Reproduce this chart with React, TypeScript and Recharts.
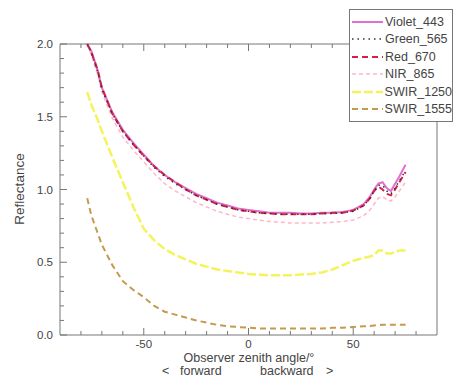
import { LineChart, Line, XAxis, YAxis, Legend, Label } from 'recharts'

const angles = [-77, -75, -72, -70, -65, -60, -55, -50, -45, -40, -35, -30, -25, -20, -15, -10, -5, 0, 5, 10, 15, 20, 25, 30, 35, 40, 45, 50, 55, 58, 60, 62, 64, 66, 68, 70, 72, 75]

const violet443 = [2.0, 1.95, 1.82, 1.7, 1.53, 1.41, 1.32, 1.24, 1.16, 1.1, 1.05, 1.01, 0.97, 0.94, 0.91, 0.89, 0.87, 0.86, 0.85, 0.84, 0.84, 0.84, 0.835, 0.835, 0.84, 0.84, 0.845, 0.86, 0.9, 0.95, 1.0, 1.04, 1.05, 1.01, 0.99, 1.04, 1.09, 1.17]
const green565 = [2.0, 1.94, 1.81, 1.69, 1.52, 1.4, 1.31, 1.23, 1.15, 1.09, 1.04, 1.0, 0.96, 0.93, 0.9, 0.88, 0.86, 0.85, 0.84, 0.835, 0.83, 0.83, 0.83, 0.83, 0.835, 0.835, 0.84, 0.85, 0.89, 0.94, 0.99, 1.03, 1.03, 0.99, 0.97, 1.01, 1.06, 1.13]
const red670 = [2.0, 1.94, 1.82, 1.7, 1.52, 1.4, 1.31, 1.23, 1.16, 1.1, 1.05, 1.0, 0.96, 0.93, 0.9, 0.88, 0.86, 0.85, 0.84, 0.835, 0.83, 0.83, 0.83, 0.83, 0.835, 0.84, 0.84, 0.855, 0.89, 0.94, 0.99, 1.02, 1.0, 0.97, 0.96, 1.0, 1.05, 1.12]
const nir865 = [2.0, 1.92, 1.79, 1.67, 1.49, 1.36, 1.27, 1.19, 1.11, 1.04, 0.99, 0.95, 0.91, 0.88, 0.85, 0.83, 0.81, 0.8, 0.79, 0.78, 0.775, 0.77, 0.77, 0.77, 0.77, 0.775, 0.78, 0.79, 0.82, 0.86, 0.9, 0.94, 0.95, 0.93, 0.92, 0.95, 0.99, 1.05]
const swir1250 = [1.67, 1.58, 1.48, 1.4, 1.22, 1.05, 0.88, 0.73, 0.65, 0.59, 0.55, 0.52, 0.49, 0.47, 0.45, 0.44, 0.43, 0.42, 0.415, 0.41, 0.41, 0.41, 0.415, 0.42, 0.43, 0.45, 0.48, 0.51, 0.53, 0.54, 0.55, 0.58, 0.58, 0.56, 0.56, 0.57, 0.58, 0.58]
const swir1555 = [0.94, 0.82, 0.7, 0.62, 0.48, 0.37, 0.31, 0.26, 0.2, 0.16, 0.14, 0.12, 0.1, 0.085, 0.07, 0.06, 0.055, 0.05, 0.045, 0.045, 0.045, 0.045, 0.045, 0.045, 0.045, 0.05, 0.05, 0.055, 0.06, 0.062, 0.065, 0.068, 0.07, 0.07, 0.07, 0.07, 0.07, 0.07]

const xTicks = [-80, -70, -60, -50, -40, -30, -20, -10, 0, 10, 20, 30, 40, 50, 60, 70, 80]
const xLabelled = [-50, 0, 50]
const yTicks = [0, 0.1, 0.2, 0.3, 0.4, 0.5, 0.6, 0.7, 0.8, 0.9, 1.0, 1.1, 1.2, 1.3, 1.4, 1.5, 1.6, 1.7, 1.8, 1.9, 2.0]
const yLabelled = [0, 0.5, 1.0, 1.5, 2.0]

const series = [
  { key: 'NIR_865', values: nir865, color: '#ffb6c6', width: 1.5, dash: '4 3' },
  { key: 'SWIR_1250', values: swir1250, color: '#f4f45a', width: 2.5, dash: '9 3' },
  { key: 'SWIR_1555', values: swir1555, color: '#c49a4c', width: 2, dash: '6 4' },
  { key: 'Violet_443', values: violet443, color: '#e070d0', width: 2, dash: undefined },
  { key: 'Red_670', values: red670, color: '#d42048', width: 2, dash: '6 4' },
  { key: 'Green_565', values: green565, color: '#333333', width: 1.5, dash: '1.5 4' },
]

const legendOrder = ['Violet_443', 'Green_565', 'Red_670', 'NIR_865', 'SWIR_1250', 'SWIR_1555']

const data = angles.map((a, i) => {
  const row: Record<string, number> = { angle: a }
  series.forEach((s) => (row[s.key] = s.values[i]))
  return row
})

const font = 'Liberation Sans, Arial, sans-serif'
const axisColor = '#777'
const textColor = '#444'

const isMajor = (v: number, list: number[]) => list.some((m) => Math.abs(m - v) < 1e-6)

function BottomTick(props: any) {
  const { x, y, payload } = props
  const major = isMajor(payload.value, xLabelled)
  return (
    <g>
      <line x1={x} x2={x} y1={y} y2={y - (major ? 7 : 4)} stroke={axisColor} />
      {major && (
        <text x={x} y={y + 12.5} textAnchor="middle" fontSize={11.5} fontFamily={font} fill={textColor}>
          {payload.value}
        </text>
      )}
    </g>
  )
}

function TopTick(props: any) {
  const { x, y, payload } = props
  const major = isMajor(payload.value, xLabelled)
  return <line x1={x} x2={x} y1={y} y2={y + (major ? 7 : 4)} stroke={axisColor} />
}

function LeftTick(props: any) {
  const { x, y, payload } = props
  const major = isMajor(payload.value, yLabelled)
  return (
    <g>
      <line x1={x} x2={x + (major ? 7 : 4)} y1={y} y2={y} stroke={axisColor} />
      {major && (
        <text x={x - 7} y={y + 4} textAnchor="end" fontSize={11.5} fontFamily={font} fill={textColor}>
          {payload.value.toFixed(1)}
        </text>
      )}
    </g>
  )
}

function RightTick(props: any) {
  const { x, y, payload } = props
  const major = isMajor(payload.value, yLabelled)
  return <line x1={x} x2={x - (major ? 7 : 4)} y1={y} y2={y} stroke={axisColor} />
}

function LegendBox() {
  return (
    <div
      style={{
        border: `1px solid ${axisColor}`,
        background: '#fff',
        padding: '3px 0',
        width: 104,
        boxSizing: 'border-box',
        fontFamily: font,
        fontSize: 12.5,
        color: textColor,
      }}
    >
      {legendOrder.map((k) => {
        const s = series.find((x) => x.key === k)!
        return (
          <div key={k} style={{ display: 'flex', alignItems: 'center', height: 17.5 }}>
            <svg width={33} height={8} style={{ marginLeft: 2 }}>
              <line x1={0} x2={31} y1={4} y2={4} stroke={s.color} strokeWidth={s.width} strokeDasharray={s.dash} />
            </svg>
            <span>{k}</span>
          </div>
        )
      })}
    </div>
  )
}

export default function App() {
  return (
    <div style={{ width: 466, height: 388, position: 'relative', background: '#fff' }}>
      <style>{'body{margin:0}'}</style>
      <LineChart width={466} height={388} data={data} margin={{ top: 0, right: 0, bottom: 0, left: 0 }}>
        <XAxis
          xAxisId="bottom"
          dataKey="angle"
          type="number"
          domain={[-90, 90]}
          ticks={xTicks}
          interval={0}
          height={53}
          stroke={axisColor}
          tickLine={false}
          tickSize={0}
          tickMargin={0}
          tick={<BottomTick />}
        >
          <Label
            content={() => (
              <g fontFamily={font} fontSize={12.5} fill={textColor}>
                <text x={249} y={362} textAnchor="middle">Observer zenith angle/°</text>
                <text x={162} y={375}>{'<'}</text>
                <text x={180} y={375}>forward</text>
                <text x={260} y={375}>backward</text>
                <text x={326} y={375}>{'>'}</text>
              </g>
            )}
          />
        </XAxis>
        <XAxis
          xAxisId="top"
          orientation="top"
          dataKey="angle"
          type="number"
          domain={[-90, 90]}
          ticks={xTicks}
          interval={0}
          height={44}
          stroke={axisColor}
          tickLine={false}
          tickSize={0}
          tickMargin={0}
          tick={<TopTick />}
        />
        <YAxis
          yAxisId="left"
          type="number"
          domain={[0, 2]}
          ticks={yTicks}
          interval={0}
          width={60}
          stroke={axisColor}
          tickLine={false}
          tickSize={0}
          tickMargin={0}
          tick={<LeftTick />}
        >
          <Label
            content={() => (
              <text
                x={24}
                y={189}
                transform="rotate(-90 24 189)"
                textAnchor="middle"
                fontFamily={font}
                fontSize={13.5}
                fill={textColor}
              >
                Reflectance
              </text>
            )}
          />
        </YAxis>
        <YAxis
          yAxisId="right"
          orientation="right"
          type="number"
          domain={[0, 2]}
          ticks={yTicks}
          interval={0}
          width={29}
          stroke={axisColor}
          tickLine={false}
          tickSize={0}
          tickMargin={0}
          tick={<RightTick />}
        />
        {series.map((s) => (
          <Line
            key={s.key}
            xAxisId="bottom"
            yAxisId="left"
            dataKey={s.key}
            type="linear"
            stroke={s.color}
            strokeWidth={s.width}
            strokeDasharray={s.dash}
            dot={false}
            isAnimationActive={false}
          />
        ))}
        <Legend
          layout="vertical"
          align="center"
          verticalAlign="middle"
          wrapperStyle={{ left: 349, top: 9, width: 104 }}
          content={() => <LegendBox />}
        />
      </LineChart>
    </div>
  )
}
